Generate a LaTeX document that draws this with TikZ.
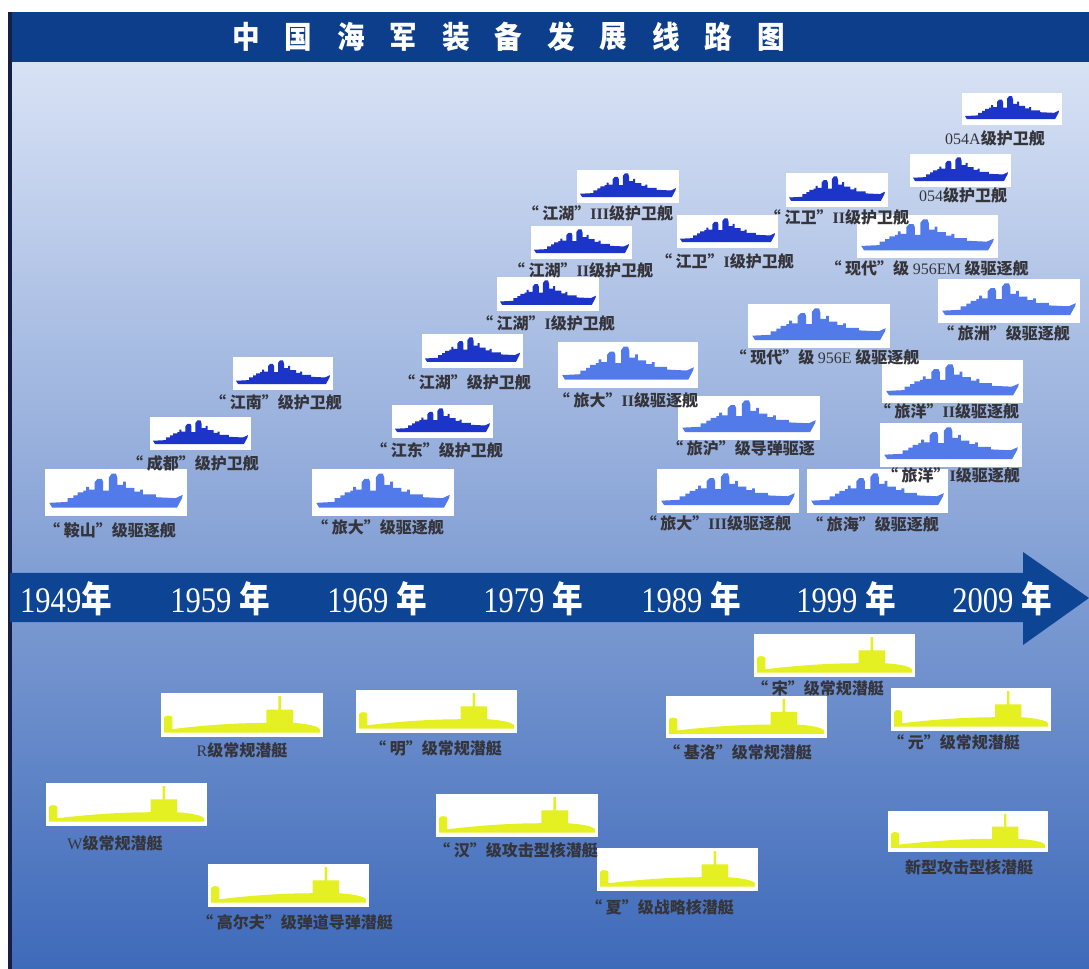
\documentclass[tikz,border=0pt]{standalone}
\usepackage{fontspec}
\usepackage{tikz}
\setmainfont{Liberation Serif}
\newfontfamily\cjk{Noto Sans CJK SC}

\definecolor{titleblue}{RGB}{12,62,140}
\definecolor{arrowblue}{RGB}{14,68,148}
\definecolor{frigateblue}{RGB}{28,52,200}
\definecolor{destroyerblue}{RGB}{82,122,232}
\definecolor{subyellow}{RGB}{228,240,34}
\definecolor{labelgray}{RGB}{52,52,58}
\definecolor{bgtop}{RGB}{216,226,245}
\definecolor{bgmid}{RGB}{134,154,210}
\definecolor{bgbot}{RGB}{62,106,186}
\definecolor{edgenavy}{RGB}{20,30,70}

% side views, drawn in a unit box (y grows downwards)
\newcommand{\hullshape}{(0.03,0.72) -- (0.16,0.70) -- (0.16,0.62) -- (0.20,0.62) -- (0.20,0.56) -- (0.23,0.56) -- (0.23,0.50) -- (0.27,0.50) -- (0.27,0.46) -- (0.29,0.46) -- (0.29,0.38) -- (0.31,0.38) -- (0.31,0.44) -- (0.35,0.44) -- (0.35,0.28) -- (0.37,0.21) -- (0.40,0.21) -- (0.41,0.28) -- (0.41,0.46) -- (0.45,0.46) -- (0.45,0.18) -- (0.47,0.10) -- (0.50,0.10) -- (0.51,0.20) -- (0.51,0.34) -- (0.55,0.34) -- (0.55,0.27) -- (0.57,0.27) -- (0.57,0.40) -- (0.63,0.40) -- (0.63,0.48) -- (0.67,0.48) -- (0.67,0.44) -- (0.69,0.44) -- (0.69,0.54) -- (0.78,0.54) -- (0.78,0.60) -- (0.92,0.62) -- (0.97,0.55) -- (0.965,0.62) -- (0.93,0.82) -- (0.05,0.82) -- cycle}
\newcommand{\subshape}{(0.02,0.90) -- (0.02,0.56) .. controls (0.02,0.50) and (0.07,0.50) .. (0.07,0.56) -- (0.07,0.82) .. controls (0.25,0.74) and (0.45,0.68) .. (0.65,0.68) -- (0.65,0.38) -- (0.725,0.38) -- (0.725,0.07) -- (0.74,0.07) -- (0.74,0.38) -- (0.815,0.38) -- (0.815,0.68) .. controls (0.90,0.70) and (0.97,0.75) .. (0.98,0.82) -- (0.98,0.90) -- cycle}

% white card with a silhouette: name, shape, colour, x, y, width, height
\newcommand{\vessel}[7]{%
  \node[card, minimum width=#6*0.75pt, minimum height=#7*0.75pt] (#1) at (#4,#5) {};
  \begin{scope}[shift={(#4,#5)}, xscale=#6, yscale=#7]
    \fill[#3] #2;
  \end{scope}}
\newcommand{\rn}[1]{{\rmfamily\mdseries #1}}
\newcommand{\cls}[1]{{\rmfamily\bfseries #1}}

\tikzset{
  card/.style={fill=white, inner sep=0pt, outer sep=0pt, anchor=north west},
  shiplabel/.style={text=labelgray, font=\cjk\bfseries\fontsize{12}{12}\selectfont, inner sep=0pt},
  titlechar/.style={text=white, font=\cjk\bfseries\fontsize{23}{23}\selectfont, inner sep=0pt, xscale=0.9},
  yearlabel/.style={text=white, font=\fontsize{27}{27}\selectfont, inner sep=0pt, xscale=0.85}
}

\begin{document}
\begin{tikzpicture}[x=0.75pt,y=0.75pt,yscale=-1,xscale=1]
\useasboundingbox (0,0) rectangle (1089,969);
\fill[white] (0,0) rectangle (1089,969);

%Shape: Rectangle [id:background]
\shade[top color=bgtop, middle color=bgmid, bottom color=bgbot] (10,62) rectangle (1089,969);
%Shape: Rectangle [id:titlebar]
\fill[titleblue] (10,12) rectangle (1089,62);
%Straight Lines [id:leftedge]
\draw[edgenavy, line width=2.5] (10,12) -- (10,969);

% Title
\foreach \ch [count=\i from 0] in {中,国,海,军,装,备,发,展,线,路,图}
  \node[titlechar] (title\i) at (246+52.5*\i,37) {\ch};

%Shape: Arrow [id:timeline]
\fill[arrowblue] (10,573) -- (1023,573) -- (1023,552) -- (1089,598) -- (1023,645) -- (1023,622) -- (10,622) -- cycle;

% Years
\foreach \yr/\xc in {1949/66,1959/220,1969/377,1979/533,1989/691,1999/846,2009/1002}
  \node[yearlabel] (year\yr) at (\xc,599) {\yr\ifnum\yr>1949\ \fi{\cjk\bfseries 年}};

% Frigates
\vessel{chengdu}{\hullshape}{frigateblue}{150}{417}{101}{33}
\vessel{jiangnan}{\hullshape}{frigateblue}{233}{357}{100}{33}
\vessel{jiangdong}{\hullshape}{frigateblue}{392}{405}{101}{33}
\vessel{jianghu}{\hullshape}{frigateblue}{422}{334}{101}{34}
\vessel{jianghuA}{\hullshape}{frigateblue}{497}{277}{102}{34}
\vessel{jianghuB}{\hullshape}{frigateblue}{531}{226}{101}{33}
\vessel{jianghuC}{\hullshape}{frigateblue}{577}{170}{102}{33}
\vessel{jiangweiA}{\hullshape}{frigateblue}{677}{215}{101}{33}
\vessel{jiangweiB}{\hullshape}{frigateblue}{786}{173}{102}{34}
\vessel{ff054}{\hullshape}{frigateblue}{910}{154}{101}{33}
\vessel{ff054a}{\hullshape}{frigateblue}{962}{93}{100}{32}

% Destroyers
\vessel{anshan}{\hullshape}{destroyerblue}{45}{469}{142}{47}
\vessel{luda}{\hullshape}{destroyerblue}{312}{469}{142}{47}
\vessel{ludaB}{\hullshape}{destroyerblue}{558}{342}{140}{46}
\vessel{luhu}{\hullshape}{destroyerblue}{678}{396}{142}{44}
\vessel{ludaC}{\hullshape}{destroyerblue}{657}{469}{142}{44}
\vessel{luhai}{\hullshape}{destroyerblue}{807}{469}{141}{44}
\vessel{xiandaiE}{\hullshape}{destroyerblue}{748}{304}{142}{44}
\vessel{xiandaiEM}{\hullshape}{destroyerblue}{857}{215}{141}{43}
\vessel{luzhou}{\hullshape}{destroyerblue}{938}{279}{142}{44}
\vessel{luyangB}{\hullshape}{destroyerblue}{882}{360}{141}{43}
\vessel{luyangA}{\hullshape}{destroyerblue}{880}{423}{142}{44}

% Submarines
\vessel{subR}{\subshape}{subyellow}{161}{693}{162}{44}
\vessel{subW}{\subshape}{subyellow}{46}{783}{161}{43}
\vessel{golf}{\subshape}{subyellow}{208}{864}{161}{43}
\vessel{ming}{\subshape}{subyellow}{356}{690}{161}{43}
\vessel{han}{\subshape}{subyellow}{436}{794}{162}{43}
\vessel{xia}{\subshape}{subyellow}{597}{848}{161}{43}
\vessel{song}{\subshape}{subyellow}{754}{634}{161}{43}
\vessel{kilo}{\subshape}{subyellow}{666}{696}{161}{42}
\vessel{yuan}{\subshape}{subyellow}{891}{688}{160}{43}
\vessel{newssn}{\subshape}{subyellow}{888}{811}{160}{41}

% Text Node
\node[shiplabel] (chengdu-t) at (193,463) {“ 成都”级护卫舰};
\node[shiplabel] (jiangnan-t) at (276,402) {“ 江南”级护卫舰};
\node[shiplabel] (jiangdong-t) at (437,450) {“ 江东”级护卫舰};
\node[shiplabel] (jianghu-t) at (465,382) {“ 江湖”级护卫舰};
\node[shiplabel] (jianghuA-t) at (546,323) {“ 江湖”\cls{I}级护卫舰};
\node[shiplabel] (jianghuB-t) at (581,270) {“ 江湖”\cls{II}级护卫舰};
\node[shiplabel] (jianghuC-t) at (598,213) {“ 江湖”\cls{III}级护卫舰};
\node[shiplabel] (jiangweiA-t) at (725,261) {“ 江卫”\cls{I}级护卫舰};
\node[shiplabel] (jiangweiB-t) at (837,217) {“ 江卫”\cls{II}级护卫舰};
\node[shiplabel] (ff054-t) at (963,195) {\rn{054}级护卫舰};
\node[shiplabel] (ff054a-t) at (995,138) {\rn{054A}级护卫舰};
% Text Node
\node[shiplabel] (anshan-t) at (110,530) {“ 鞍山”级驱逐舰};
\node[shiplabel] (luda-t) at (378,527) {“ 旅大”级驱逐舰};
\node[shiplabel] (ludaB-t) at (626,400) {“ 旅大”\cls{II}级驱逐舰};
\node[shiplabel] (luhu-t) at (741,448) {“ 旅沪”级导弹驱逐};
\node[shiplabel] (ludaC-t) at (716,523) {“ 旅大”\cls{III}级驱逐舰};
\node[shiplabel] (luhai-t) at (873,524) {“ 旅海”级驱逐舰};
\node[shiplabel] (xiandaiE-t) at (825,357) {“ 现代”级 \rn{956E} 级驱逐舰};
\node[shiplabel] (xiandaiEM-t) at (927,268) {“ 现代”级 \rn{956EM} 级驱逐舰};
\node[shiplabel] (luzhou-t) at (1004,333) {“ 旅洲”级驱逐舰};
\node[shiplabel] (luyangB-t) at (947,411) {“ 旅洋”\cls{II}级驱逐舰};
\node[shiplabel] (luyangA-t) at (951,475) {“ 旅洋”\cls{I}级驱逐舰};
% Text Node
\node[shiplabel] (subR-t) at (242,750) {\rn{R}级常规潜艇};
\node[shiplabel] (subW-t) at (115,843) {\rn{W}级常规潜艇};
\node[shiplabel] (golf-t) at (295,922) {“ 高尔夫”级弹道导弹潜艇};
\node[shiplabel] (ming-t) at (436,748) {“ 明”级常规潜艇};
\node[shiplabel] (han-t) at (516,850) {“ 汉”级攻击型核潜艇};
\node[shiplabel] (xia-t) at (660,907) {“ 夏”级战略核潜艇};
\node[shiplabel] (song-t) at (818,688) {“ 宋”级常规潜艇};
\node[shiplabel] (kilo-t) at (738,752) {“ 基洛”级常规潜艇};
\node[shiplabel] (yuan-t) at (954,742) {“ 元”级常规潜艇};
\node[shiplabel] (newssn-t) at (969,867) {新型攻击型核潜艇};

\end{tikzpicture}
\end{document}
